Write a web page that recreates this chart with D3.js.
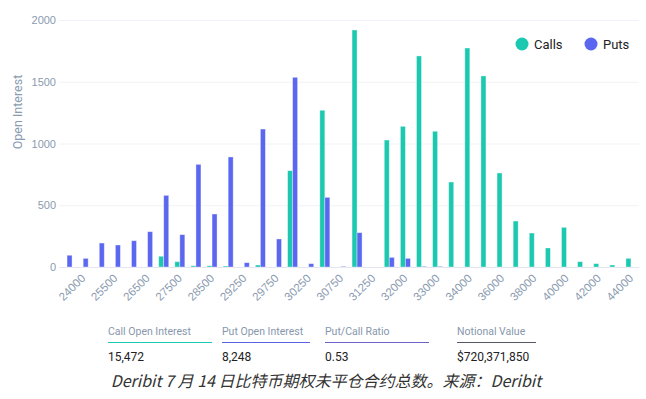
<!DOCTYPE html>
<html lang="en">
<head>
<meta charset="utf-8">
<style type="text/css">
    body { margin: 0; background: #fff; }
    svg { font-family: Roboto, "Noto Sans", sans-serif; }
    .grid line { stroke: #f1f2f7; }
    .axis text { fill: #8a9bb0; }
    .caption { font-family: "Noto Sans CJK SC", "Noto Sans", sans-serif; font-style: italic; }
</style>
</head>
<body>
<svg width="646" height="399"></svg>

<script src="https://cdn.jsdelivr.net/npm/d3@7"></script>
<script type="text/javascript">
    // strikes, only every second one gets a label
    var strikes = ["20000", "24000", "25000", "25500", "26000", "26500", "27000", "27500", "28000",
        "28500", "29000", "29250", "29500", "29750", "30000", "30250", "30500", "30750", "31000",
        "31250", "31500", "32000", "32500", "33000", "33500", "34000", "35000", "36000", "37000",
        "38000", "39000", "40000", "41000", "42000", "43000", "44000"];
    var calls = [0, 0, 0, 0, 0, 0, 87, 43, 10, 10, 8, 0, 16, 0, 780, 0, 1269, 0, 1919,
        0, 1028, 1139, 1709, 1099, 688, 1773, 1547, 761, 372, 275, 154, 321, 43, 27, 16, 70];
    var puts = [95, 70, 194, 178, 213, 286, 580, 262, 831, 429, 891, 35, 1117, 227, 1536, 27, 564, 5, 278,
        0, 78, 70, 5, 5, 0, 0, 0, 0, 0, 0, 0, 0, 0, 0, 0, 0];
    var yTicks = [0, 500, 1000, 1500, 2000];

    var stats = [
        {label: "Call Open Interest", value: "15,472", color: "#1cc9b0"},
        {label: "Put Open Interest", value: "8,248", color: "#5b62e6"},
        {label: "Put/Call Ratio", value: "0.53", color: "#6a64c8"},
        {label: "Notional Value", value: "$720,371,850", color: "#555b66"}
    ];
    var caption = "Deribit 7 月 14 日比特币期权未平仓合约总数。来源：Deribit";

    var colors = {calls: "#1cc9b0", puts: "#5b67f0"};
    var keys = ["calls", "puts"];

    var svg = d3.select("svg"),
        plotL = 59, plotR = 639, plotT = 20, plotB = 267;

    var rows = strikes.map(function (s, i) {
        return {strike: s, calls: calls[i], puts: puts[i]};
    });

    var x0 = d3.scaleBand().domain(strikes).range([plotL, plotR]).padding(0);
    var x1 = d3.scaleBand().domain(keys).range([0, x0.bandwidth()])
        .paddingInner(0).paddingOuter(0.61);
    var y = d3.scaleLinear().domain([0, 2000]).range([plotB, plotT]);

    // grid + y labels
    var yAxis = svg.append("g")
        .attr("class", "axis grid")
        .attr("transform", "translate(" + plotL + ",0)")
        .call(d3.axisLeft(y).tickValues(yTicks).tickFormat(d3.format("d"))
            .tickSize(-(plotR - plotL)).tickPadding(3));
    yAxis.select(".domain").remove();
    yAxis.selectAll("text").style("font-size", "11px");

    svg.append("line")
        .attr("x1", plotL).attr("x2", plotR)
        .attr("y1", y(0) + 0.5).attr("y2", y(0) + 0.5)
        .attr("stroke", "#e4e6ef");

    svg.append("text")
        .attr("transform", "translate(22,112) rotate(-90)")
        .attr("text-anchor", "middle")
        .style("font-size", "12.5px")
        .attr("fill", "#8a9bb0")
        .text("Open Interest");

    // bars
    var groups = svg.append("g").selectAll("g")
        .data(rows)
        .enter().append("g")
        .attr("transform", function (d) { return "translate(" + x0(d.strike) + ",0)"; });

    groups.selectAll("rect")
        .data(function (d) { return keys.map(function (k) { return {key: k, value: d[k]}; }); })
        .enter().append("rect")
        .attr("x", function (d) { return x1(d.key); })
        .attr("width", x1.bandwidth())
        .attr("y", function (d) { return y(d.value); })
        .attr("height", function (d) { return y(0) - y(d.value); })
        .attr("fill", function (d) { return colors[d.key]; })
        .attr("stroke", "rgba(255,255,255,0.45)")
        .attr("stroke-width", 0.8);

    // x labels
    var xAxis = svg.append("g")
        .attr("class", "axis")
        .attr("transform", "translate(0," + plotB + ")")
        .call(d3.axisBottom(x0)
            .tickValues(strikes.filter(function (d, i) { return i % 2 === 1; }))
            .tickSize(0));
    xAxis.select(".domain").remove();
    xAxis.selectAll("text")
        .style("font-size", "11.5px")
        .attr("text-anchor", "end")
        .attr("dy", null)
        .attr("y", 0)
        .attr("transform", "translate(3,12) rotate(-45)");

    // legend
    var legend = svg.append("g").selectAll("g")
        .data([{name: "Calls", key: "calls", x: 522}, {name: "Puts", key: "puts", x: 591}])
        .enter().append("g")
        .attr("transform", function (d) { return "translate(" + d.x + ",44)"; });
    legend.append("circle").attr("r", 6.5).attr("fill", function (d) { return colors[d.key]; });
    legend.append("text")
        .attr("x", 12).attr("y", 4.5)
        .style("font-size", "13px")
        .attr("fill", "#222")
        .text(function (d) { return d.name; });

    // stats row
    var statX = [108, 222, 325, 457],
        statW = [104, 88, 104, 79];
    var st = svg.append("g").selectAll("g")
        .data(stats)
        .enter().append("g")
        .attr("transform", function (d, i) { return "translate(" + statX[i] + ",0)"; });
    st.append("text")
        .attr("y", 335)
        .style("font-size", "10.5px")
        .attr("fill", "#8797ad")
        .text(function (d) { return d.label; });
    st.append("line")
        .attr("x1", 0).attr("x2", function (d, i) { return statW[i]; })
        .attr("y1", 342.5).attr("y2", 342.5)
        .attr("stroke", function (d) { return d.color; })
        .attr("stroke-width", 1.2);
    st.append("text")
        .attr("y", 361)
        .style("font-size", "12px")
        .attr("fill", "#222")
        .text(function (d) { return d.value; });

    svg.append("text")
        .attr("class", "caption")
        .attr("x", 326).attr("y", 387)
        .attr("text-anchor", "middle")
        .style("font-size", "16px")
        .attr("fill", "#333")
        .text(caption);
</script>
</body>
</html>
